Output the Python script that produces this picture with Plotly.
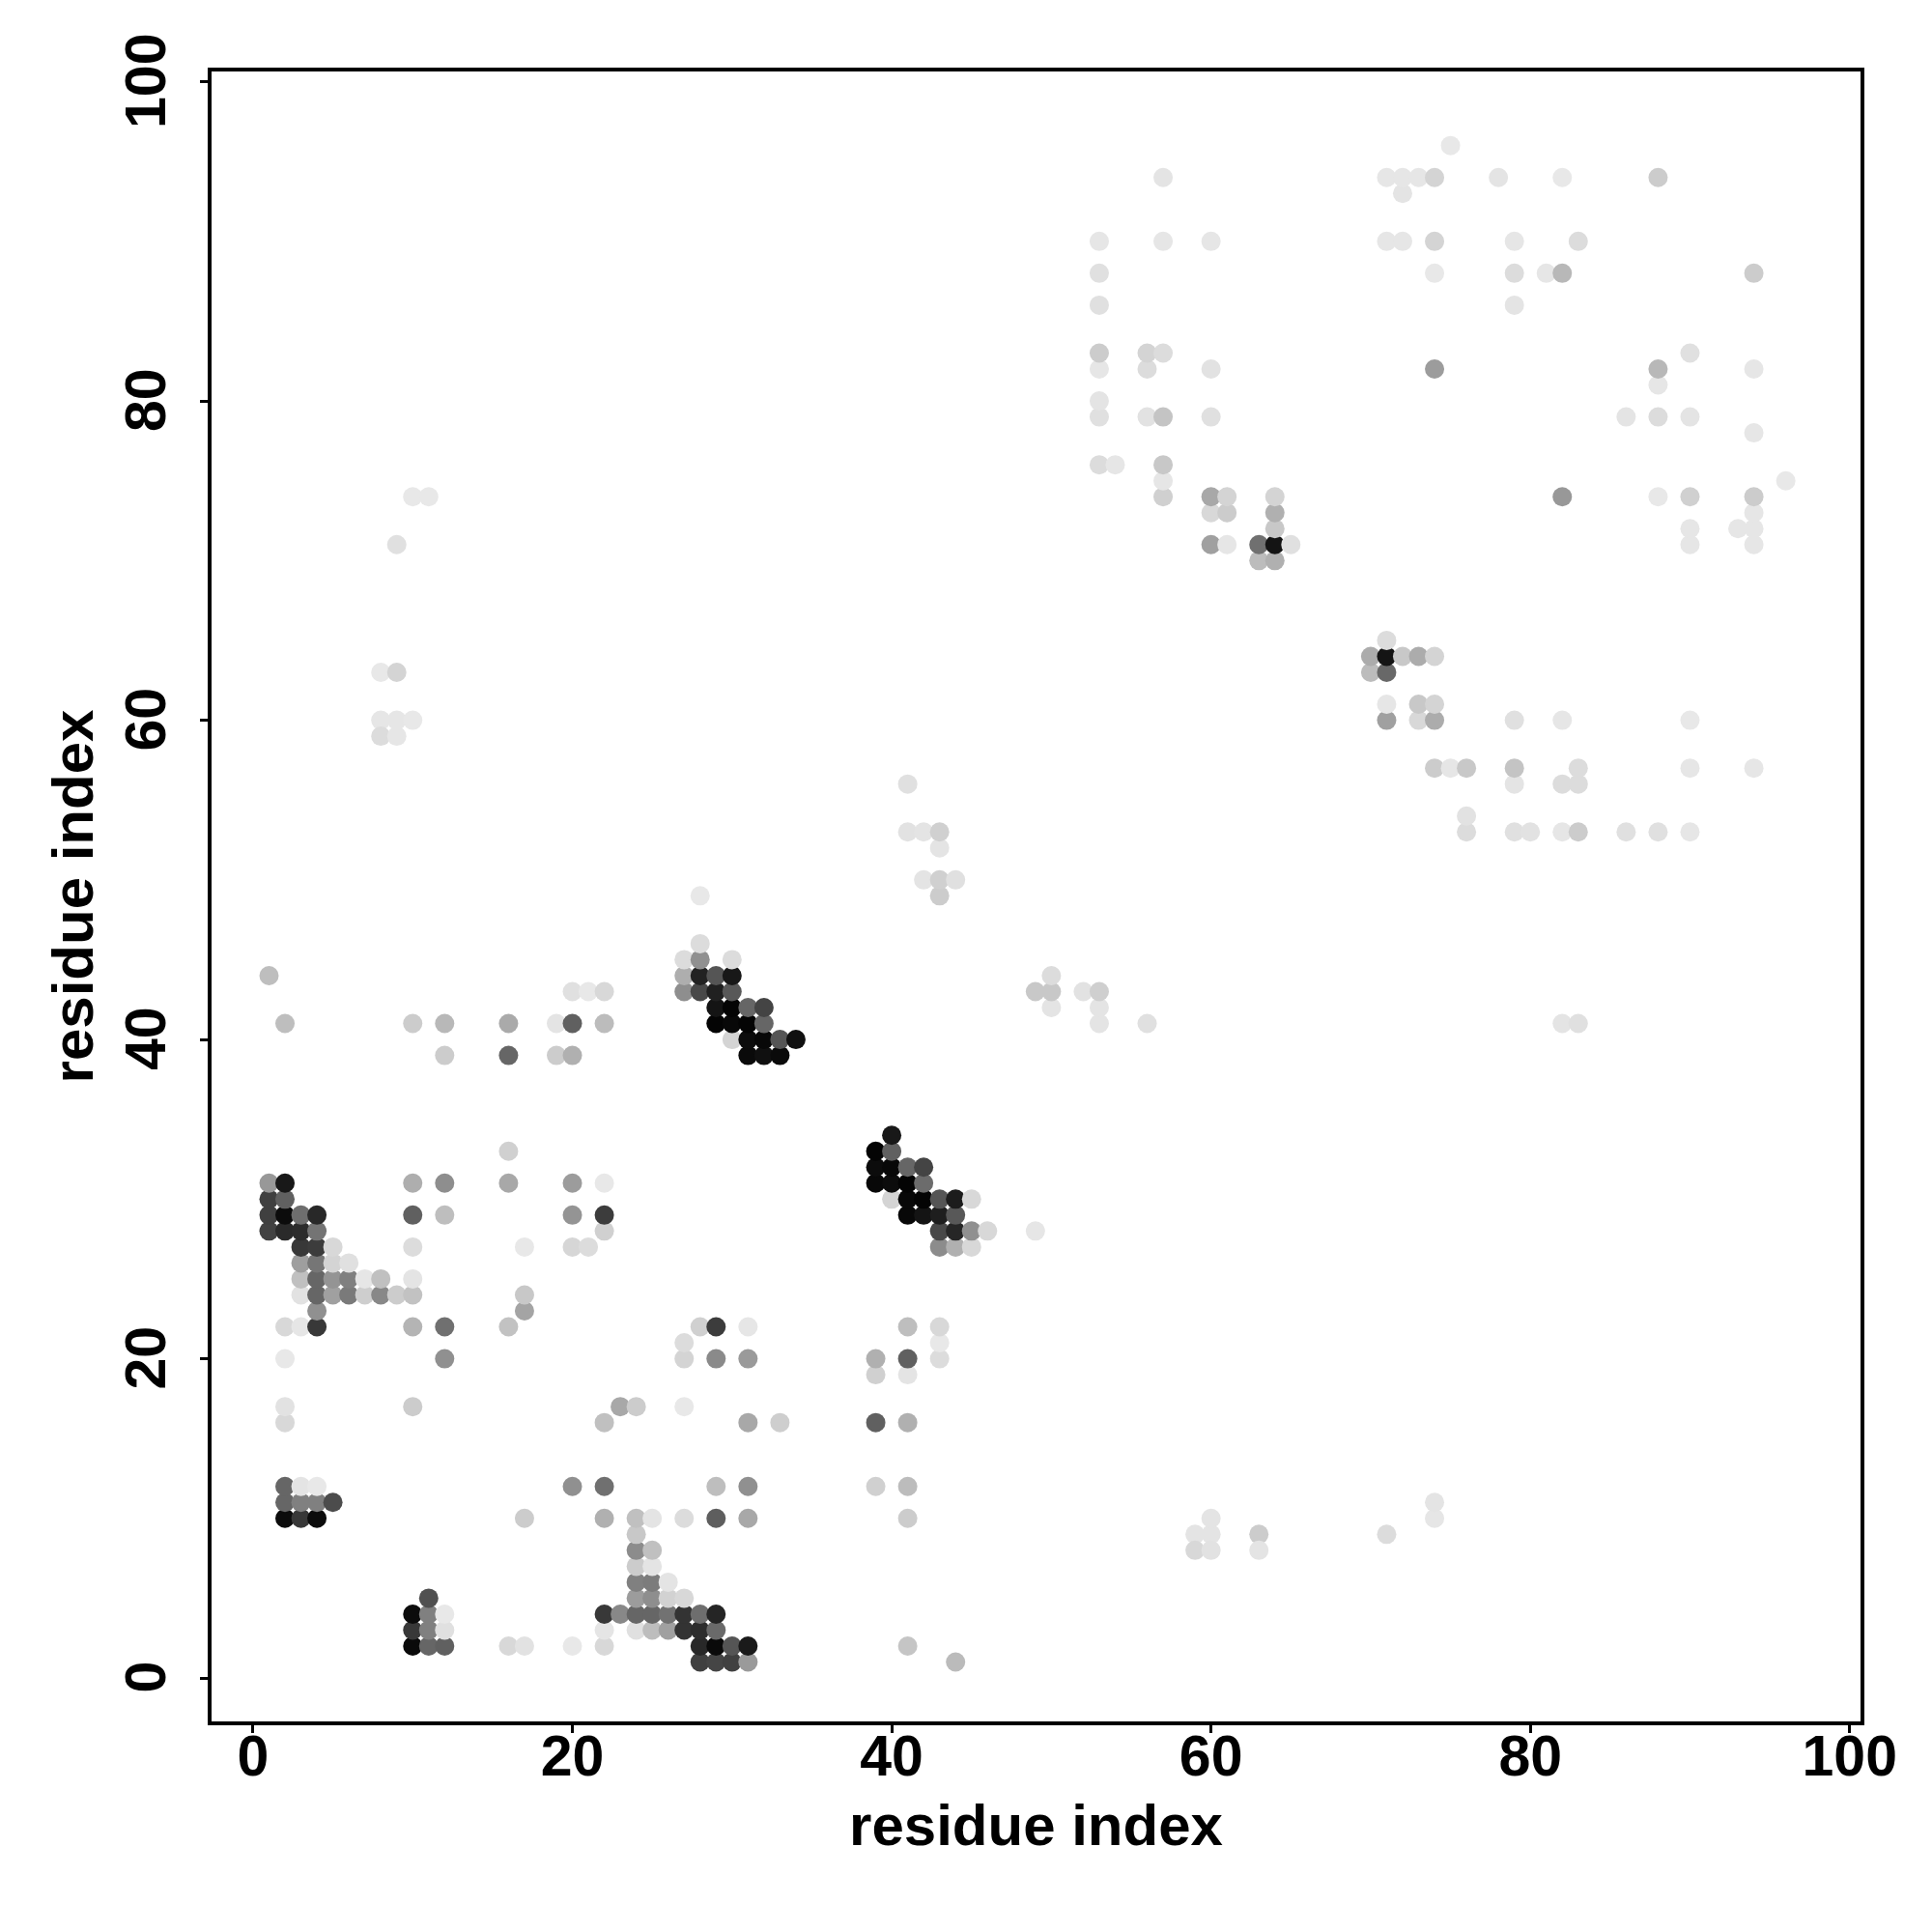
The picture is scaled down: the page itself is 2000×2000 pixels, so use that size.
import plotly.graph_objects as go

# residue contact map: residue i, residue j, grey level of the point (0 black .. 255 white)
res_x = [
    28, 29, 30, 31, 44,
    10, 11, 12, 16, 17, 20, 22, 28, 29, 30, 31, 41,
    10, 11, 12, 22, 24, 25, 26, 27, 28, 29,
    10, 11, 12, 22, 23, 24, 25, 26, 27, 28, 29,
    11, 24, 25, 26, 27,
    24, 25, 26,
    24, 25,
    24, 25,
    24,
    2, 3, 4, 17, 22, 24, 25, 27, 29, 31, 41,
    2, 3, 4, 5,
    2, 3, 4, 20, 22, 29, 31, 39, 41,
    2, 22, 31, 33, 39, 41,
    2, 10, 23, 24, 27,
    39, 41,
    2, 12, 27, 29, 31, 39, 41, 43,
    27, 43,
    2, 3, 4, 10, 12, 16, 28, 29, 31, 41, 43,
    4, 17,
    3, 4, 5, 6, 7, 8, 9, 10, 17,
    3, 4, 5, 6, 7, 8, 10,
    3, 4, 5, 6,
    3, 4, 5, 10, 17, 20, 21, 43, 44, 45,
    1, 2, 3, 4, 22, 43, 44, 45, 46, 49,
    1, 2, 3, 4, 10, 12, 20, 22, 41, 42, 43, 44,
    1, 2, 40, 41, 42, 43, 44, 45,
    1, 2, 10, 12, 16, 20, 22, 39, 40, 41, 42,
    39, 40, 41, 42,
    16, 39, 40,
    40,
    12, 16, 19, 20, 31, 32, 33,
    30, 31, 32, 33, 34,
    2, 10, 12, 16, 19, 20, 22, 29, 30, 31, 32, 53, 56, 82, 83,
    29, 30, 31, 32, 50, 53,
    20, 21, 22, 27, 28, 29, 30, 49, 50, 52, 53,
    1, 27, 28, 29, 30, 50,
    27, 28, 30,
    28,
    28, 43,
    42, 43, 44,
    43,
    41, 42, 43, 76, 79, 80, 82, 83, 86, 88, 90,
    76,
    41, 79, 82, 83,
    74, 75, 76, 79, 83, 90, 94,
    8, 9, 10, 71, 73, 74, 79, 82, 90,
    8, 9,
    71, 73, 74,
    8, 9,
    70, 71,
    70, 71, 72, 73, 74,
    71,
    63, 64,
    9, 60, 61, 63, 64, 65, 90, 94,
    64, 90, 93, 94,
    60, 61, 64, 94,
    10, 11, 57, 60, 61, 64, 82, 88, 90, 94,
    57, 96,
    53, 54, 57,
    94,
    53, 56, 57, 60, 86, 88, 90,
    53,
    88,
    53, 56, 60, 74, 88, 94,
    53, 56, 57, 90,
    53, 79,
    53, 74, 79, 81, 82, 94,
    53, 57, 60, 71, 72, 74, 79, 83,
    72,
    57, 71, 72, 73, 74, 78, 82, 88,
    75,
    59, 60, 63, 71,
    60, 74,
    59, 60, 63,
    74,
]
res_y = [
    1, 1, 1, 1, 1,
    2, 2, 2, 2, 2, 2, 2, 2, 2, 2, 2, 2,
    3, 3, 3, 3, 3, 3, 3, 3, 3, 3,
    4, 4, 4, 4, 4, 4, 4, 4, 4, 4, 4,
    5, 5, 5, 5, 5,
    6, 6, 6,
    7, 7,
    8, 8,
    9,
    10, 10, 10, 10, 10, 10, 10, 10, 10, 10, 10,
    11, 11, 11, 11,
    12, 12, 12, 12, 12, 12, 12, 12, 12,
    16, 16, 16, 16, 16, 16,
    17, 17, 17, 17, 17,
    19, 19,
    20, 20, 20, 20, 20, 20, 20, 20,
    21, 21,
    22, 22, 22, 22, 22, 22, 22, 22, 22, 22, 22,
    23, 23,
    24, 24, 24, 24, 24, 24, 24, 24, 24,
    25, 25, 25, 25, 25, 25, 25,
    26, 26, 26, 26,
    27, 27, 27, 27, 27, 27, 27, 27, 27, 27,
    28, 28, 28, 28, 28, 28, 28, 28, 28, 28,
    29, 29, 29, 29, 29, 29, 29, 29, 29, 29, 29, 29,
    30, 30, 30, 30, 30, 30, 30, 30,
    31, 31, 31, 31, 31, 31, 31, 31, 31, 31, 31,
    32, 32, 32, 32,
    33, 33, 33,
    34,
    39, 39, 39, 39, 39, 39, 39,
    40, 40, 40, 40, 40,
    41, 41, 41, 41, 41, 41, 41, 41, 41, 41, 41, 41, 41, 41, 41,
    42, 42, 42, 42, 42, 42,
    43, 43, 43, 43, 43, 43, 43, 43, 43, 43, 43,
    44, 44, 44, 44, 44, 44,
    45, 45, 45,
    46,
    49, 49,
    50, 50, 50,
    52,
    53, 53, 53, 53, 53, 53, 53, 53, 53, 53, 53,
    54,
    56, 56, 56, 56,
    57, 57, 57, 57, 57, 57, 57,
    60, 60, 60, 60, 60, 60, 60, 60, 60,
    59, 59,
    61, 61, 61,
    63, 63,
    63, 63,
    64, 64, 64, 64, 64,
    65,
    70, 70,
    71, 71, 71, 71, 71, 71, 71, 71,
    72, 72, 72, 72,
    73, 73, 73, 73,
    74, 74, 74, 74, 74, 74, 74, 74, 74, 74,
    75, 75,
    76, 76, 76,
    78,
    79, 79, 79, 79, 79, 79, 79,
    80,
    81,
    82, 82, 82, 82, 82, 82,
    83, 83, 83, 83,
    86, 86,
    88, 88, 88, 88, 88, 88,
    90, 90, 90, 90, 90, 90, 90, 90,
    93,
    94, 94, 94, 94, 94, 94, 94, 94,
    96,
    9, 9, 9, 9,
    10, 10,
    8, 8, 8,
    11,
]
grey_level = [
    0x40, 0x45, 0x40, 0x9a, 0xbb,
    0x0a, 0x66, 0x60, 0xd8, 0xe2, 0xe8, 0xd8, 0x28, 0x0a, 0x55, 0x1a, 0xc5,
    0x38, 0x80, 0xe0, 0xe5, 0xe0, 0xbd, 0xa0, 0x33, 0x2d, 0x6a,
    0x0c, 0x80, 0xe8, 0x38, 0x88, 0x66, 0x66, 0x72, 0x33, 0x6e, 0x25,
    0x50, 0x9c, 0x8e, 0xd2, 0xd8,
    0x80, 0x7c, 0xe4,
    0xcc, 0xe4,
    0x8c, 0xc0,
    0xc8,
    0x0c, 0x38, 0x0c, 0xcc, 0xb0, 0xc0, 0xe4, 0xdc, 0x5e, 0xa8, 0xcc,
    0x66, 0x80, 0x80, 0x4c,
    0x66, 0xe4, 0xe8, 0x90, 0x70, 0xbe, 0x90, 0xd0, 0xbc,
    0xd8, 0xc0, 0xa8, 0xce, 0x60, 0xb0,
    0xe2, 0xcc, 0xa8, 0xcc, 0xe8,
    0xd0, 0xe4,
    0xe8, 0x90, 0xd4, 0x8a, 0x9a, 0xb0, 0x60, 0xdc,
    0xdc, 0xe8,
    0xd8, 0xe6, 0x38, 0xb4, 0x70, 0xc2, 0xd0, 0x3c, 0xe6, 0xbe, 0xd8,
    0x90, 0xa4,
    0xe2, 0x66, 0xa0, 0x7a, 0xce, 0x88, 0xcc, 0xc2, 0xc8,
    0xc0, 0x66, 0x94, 0x80, 0xe6, 0xc0, 0xe4,
    0x9e, 0x76, 0xd4, 0xe0,
    0x38, 0x3c, 0xd8, 0xdc, 0xe8, 0xd6, 0xdc, 0x8c, 0xb0, 0xd8,
    0x42, 0x2a, 0x2c, 0x74, 0xd0, 0x48, 0x26, 0x90, 0xd8, 0xe6,
    0x40, 0x0c, 0x6e, 0x28, 0x60, 0xbe, 0x94, 0x3c, 0x08, 0x14, 0x1e, 0x58,
    0x40, 0x60, 0xd4, 0x08, 0x04, 0x55, 0x1c, 0xd8,
    0x98, 0x18, 0xae, 0x8e, 0xa8, 0x9c, 0xe8, 0x08, 0x0c, 0x04, 0x6c,
    0x0c, 0x08, 0x66, 0x44,
    0xd0, 0x04, 0x60,
    0x18,
    0xcc, 0x66, 0xcc, 0xb0, 0x0a, 0x10, 0x0a,
    0xd4, 0x0c, 0x08, 0x55, 0x10,
    0xbe, 0xcc, 0xb8, 0xaa, 0xe4, 0x60, 0xbc, 0x04, 0x08, 0x04, 0x66, 0xe4, 0xe0, 0xe4, 0xe0,
    0x14, 0x04, 0x66, 0x44, 0xe4, 0xe4,
    0xe0, 0xe8, 0xd8, 0x8e, 0x48, 0x20, 0x58, 0xc8, 0xc8, 0xe2, 0xcf,
    0xbe, 0xae, 0x22, 0x55, 0x18, 0xdc,
    0xdc, 0x90, 0xdc,
    0xdc,
    0xe8, 0xcc,
    0xe4, 0xd0, 0xe0,
    0xe4,
    0xe2, 0xe4, 0xd0, 0xdc, 0xe0, 0xe2, 0xe6, 0xcc, 0xe0, 0xe0, 0xe6,
    0xe2,
    0xe0, 0xe4, 0xdc, 0xdc,
    0xcc, 0xe6, 0xc8, 0xc4, 0xdc, 0xe6, 0xe6,
    0xe6, 0xe6, 0xe8, 0xa0, 0xd8, 0xac, 0xe0, 0xe6, 0xe8,
    0xdc, 0xe6,
    0xe6, 0xc8, 0xd4,
    0xe8, 0xd4,
    0xbc, 0x68,
    0xac, 0x14, 0xc8, 0xac, 0xd4,
    0xdc,
    0xbc, 0xb0,
    0xe0, 0xa0, 0xe6, 0x70, 0x14, 0xe0, 0xe6, 0xe6,
    0xc8, 0xe6, 0xe6, 0xe6,
    0xd8, 0xcc, 0xb0, 0xe6,
    0xe8, 0xe8, 0xd0, 0xa8, 0xd4, 0xd4, 0x98, 0xe8, 0xd0, 0xcc,
    0xe6, 0xe8,
    0xdc, 0xe6, 0xc8,
    0xe6,
    0xe0, 0xe2, 0xc4, 0xe0, 0xe4, 0xdc, 0xe4,
    0xe4,
    0xe6,
    0xe6, 0xdc, 0xe2, 0x9c, 0xb8, 0xe6,
    0xcc, 0xd4, 0xdc, 0xe0,
    0xe0, 0xe4,
    0xe0, 0xe8, 0xdc, 0xe6, 0xb8, 0xcc,
    0xe6, 0xe6, 0xe6, 0xe6, 0xe6, 0xd4, 0xe6, 0xdc,
    0xe4,
    0xe4, 0xe6, 0xe6, 0xe6, 0xd4, 0xe4, 0xe8, 0xcc,
    0xe8,
    0xe4, 0xe4, 0xcc, 0xdc,
    0xe4, 0xe6,
    0xd8, 0xe2, 0xe4,
    0xe4,
]
tick_values = [0, 20, 40, 60, 80, 100]
axis_label = "residue index"

colors = [f"rgb({g},{g},{g})" for g in grey_level]

fig = go.Figure(go.Scatter(
    x=res_x, y=res_y, mode="markers",
    marker=dict(size=20, color=colors, line=dict(width=0)),
    cliponaxis=True,
))

font = dict(family="Liberation Sans", size=59, color="black", weight="bold")
title_font = dict(family="Liberation Sans", size=60, color="black", weight="bold")
axis_common = dict(
    tickmode="array", tickvals=tick_values, ticks="outside", ticklen=8, tickwidth=3,
    tickcolor="black", showline=True, linecolor="black", linewidth=3.5, mirror=True,
    showgrid=False, zeroline=False, tickfont=font,
)
fig.update_xaxes(range=[-2.60, 100.68], title=dict(text=f"<b>{axis_label}</b>", font=title_font, standoff=19),
                 tickangle=0, ticklabelstandoff=-27, **axis_common)
fig.update_yaxes(range=[-2.72, 100.64], title=dict(text=f"<b>{axis_label}</b>", font=title_font, standoff=3),
                 tickangle=-90, ticklabelstandoff=13, ticklabelshift=8, **axis_common)
fig.update_layout(width=2000, height=2000, autosize=False, showlegend=False,
                  paper_bgcolor="white", plot_bgcolor="white",
                  margin=dict(l=211, r=82, t=66, b=226))
fig.write_html("out.html")
